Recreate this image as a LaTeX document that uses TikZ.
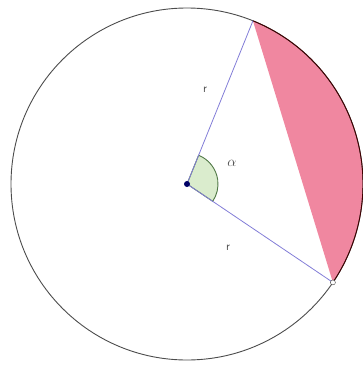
\documentclass[tikz,border=0pt]{standalone}
\usepackage{tikz}
\usetikzlibrary{calc}

\definecolor{segpink}{RGB}{240,135,160}
\definecolor{radblue}{RGB}{130,125,215}
\definecolor{anggreen}{RGB}{218,236,205}
\definecolor{angline}{RGB}{80,120,70}

\begin{document}
\begin{tikzpicture}[
        x=1pt, y=-1pt,
        radline/.style={draw=radblue, line width=0.8pt},
        lbl/.style={font=\sffamily\fontsize{12}{12}\selectfont, text=black!70},
        circ/.style={draw=black!70, line width=0.9pt}
        ]
        \useasboundingbox (0,0) rectangle (362,367);
        \coordinate (O) at (187,184);
        % points on the circle (y axis points down)
        \coordinate (A) at ($(O)+(-68:176)$);
        \coordinate (B) at ($(O)+(34:176)$);
        % segment between chord and arc
        \fill[segpink] (A) arc[start angle=-68, end angle=34, radius=176] -- cycle;
        % circle
        \draw[circ] (O) circle[radius=176];
        \draw[draw=black!75!red, line width=0.9pt] (A) arc[start angle=-68, end angle=34, radius=176];
        % angle
        \filldraw[fill=anggreen, draw=angline, line width=0.9pt] (O) -- ($(O)!31pt!(A)$) arc[start angle=-68, end angle=34, radius=31] -- cycle;
        \draw[radline] (O) -- (A);
        \draw[radline] (O) -- (B);
        \fill[black!60!blue] (O) circle[radius=3];
        \filldraw[fill=white, draw=black!80] (B) circle[radius=2.5];
        \node[lbl] (r1) at (205,90) {r};
        \node[lbl] (r2) at (228,248) {r};
        \node[lbl, font=\fontsize{14}{14}\selectfont] (alpha) at (232,163) {$\alpha$};
    \end{tikzpicture}
\end{document}
